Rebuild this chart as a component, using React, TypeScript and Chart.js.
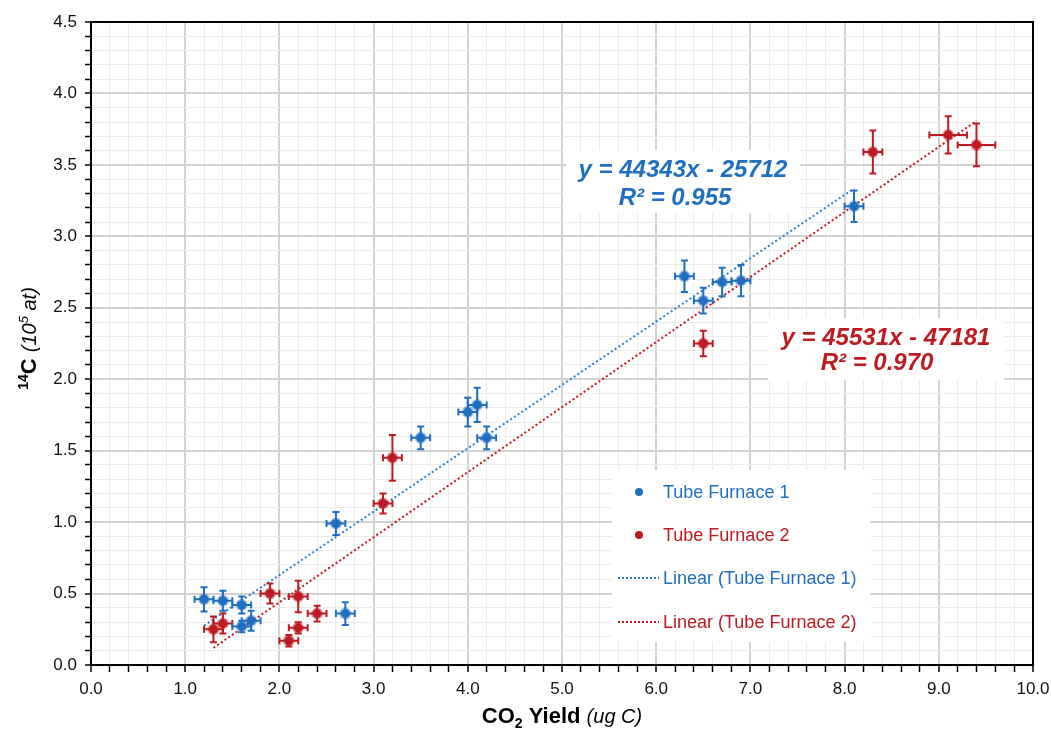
import React, { useEffect, useRef } from 'react';
import { Chart, registerables } from 'chart.js';
Chart.register(...registerables);

// ---- Data ----
const tf1X = [1.2, 1.4, 1.6, 1.6, 1.7, 2.7, 2.6, 3.5, 4.0, 4.1, 4.2, 6.3, 6.5, 6.7, 6.9, 8.1];
const tf1Y = [0.46, 0.45, 0.42, 0.27, 0.31, 0.36, 0.99, 1.59, 1.77, 1.82, 1.59, 2.72, 2.55, 2.68, 2.69, 3.21];
const tf1XErr = [0.1, 0.1, 0.1, 0.1, 0.1, 0.1, 0.1, 0.1, 0.1, 0.1, 0.1, 0.1, 0.1, 0.1, 0.1, 0.1];
const tf1YErr = [0.085, 0.07, 0.06, 0.04, 0.07, 0.08, 0.08, 0.08, 0.1, 0.12, 0.08, 0.11, 0.09, 0.1, 0.11, 0.11];

const tf2X = [1.3, 1.4, 1.9, 2.2, 2.4, 2.2, 2.1, 3.1, 3.2, 6.5, 8.3, 9.1, 9.4];
const tf2Y = [0.25, 0.29, 0.5, 0.48, 0.36, 0.26, 0.17, 1.13, 1.45, 2.25, 3.59, 3.71, 3.64];
const tf2XErr = [0.1, 0.1, 0.1, 0.1, 0.1, 0.1, 0.1, 0.1, 0.1, 0.1, 0.1, 0.2, 0.2];
const tf2YErr = [0.09, 0.07, 0.07, 0.11, 0.055, 0.04, 0.04, 0.07, 0.16, 0.09, 0.15, 0.13, 0.15];

// Trendline equations (in units of 10^5 at)
const trend1Slope = 0.44343;
const trend1Intercept = -0.25712;
const trend1Range = [1.2, 8.1];
const trend2Slope = 0.45531;
const trend2Intercept = -0.47181;
const trend2Range = [1.3, 9.4];

const seriesNames = ['Tube Furnace 1', 'Tube Furnace 2', 'Linear (Tube Furnace 1)', 'Linear (Tube Furnace 2)'];
const eq1Lines = ['y = 44343x - 25712', 'R² = 0.955'];
const eq2Lines = ['y = 45531x - 47181', 'R² = 0.970'];

const BLUE = '#1f6fc0';
const BLUE_T = '#2a7fcf';
const RED = '#bd1a22';
const RED_T = '#c8141e';
const FONT = "'Liberation Sans', Arial, sans-serif";

const errBars = [
  { xErr: tf1XErr, yErr: tf1YErr, color: BLUE },
  { xErr: tf2XErr, yErr: tf2YErr, color: RED },
];

type Seg = { t: string; font: string; dy?: number };
function drawRich(ctx: CanvasRenderingContext2D, segs: Seg[], cx: number, y: number, color: string) {
  let total = 0;
  const widths = segs.map((s) => {
    ctx.font = s.font;
    const w = ctx.measureText(s.t).width;
    total += w;
    return w;
  });
  let x = cx - total / 2;
  ctx.fillStyle = color;
  ctx.textAlign = 'left';
  ctx.textBaseline = 'alphabetic';
  segs.forEach((s, i) => {
    ctx.font = s.font;
    ctx.fillText(s.t, x, y + (s.dy || 0));
    x += widths[i];
  });
}

const decorPlugin = {
  id: 'decor',
  beforeDatasetDraw(chart: any, args: any) {
    const i = args.index;
    if (i > 1) return;
    const eb = errBars[i];
    const ds = chart.data.datasets[i];
    const xs = chart.scales.x;
    const ys = chart.scales.y;
    const ctx = chart.ctx;
    ctx.save();
    ctx.strokeStyle = eb.color;
    ctx.lineWidth = 2;
    const cap = 3.5;
    ds.data.forEach((p: any, j: number) => {
      const px = xs.getPixelForValue(p.x);
      const py = ys.getPixelForValue(p.y);
      const x0 = xs.getPixelForValue(p.x - eb.xErr[j]);
      const x1 = xs.getPixelForValue(p.x + eb.xErr[j]);
      const y0 = ys.getPixelForValue(p.y - eb.yErr[j]);
      const y1 = ys.getPixelForValue(p.y + eb.yErr[j]);
      ctx.beginPath();
      ctx.moveTo(x0, py); ctx.lineTo(x1, py);
      ctx.moveTo(x0, py - cap); ctx.lineTo(x0, py + cap);
      ctx.moveTo(x1, py - cap); ctx.lineTo(x1, py + cap);
      ctx.moveTo(px, y0); ctx.lineTo(px, y1);
      ctx.moveTo(px - cap, y0); ctx.lineTo(px + cap, y0);
      ctx.moveTo(px - cap, y1); ctx.lineTo(px + cap, y1);
      ctx.stroke();
    });
    ctx.restore();
  },
  afterDraw(chart: any) {
    const ctx: CanvasRenderingContext2D = chart.ctx;
    const a = chart.chartArea;
    ctx.save();
    // plot border
    ctx.strokeStyle = '#000';
    ctx.lineWidth = 2;
    ctx.strokeRect(a.left, a.top, a.right - a.left, a.bottom - a.top);

    // equation boxes
    ctx.fillStyle = '#fff';
    ctx.fillRect(566, 150, 234, 63);
    ctx.fillRect(768, 318, 236, 62);
    const eqFont = `italic bold 24px ${FONT}`;
    drawRich(ctx, [{ t: eq1Lines[0], font: eqFont }], 683, 177, BLUE);
    drawRich(ctx, [{ t: eq1Lines[1], font: eqFont }], 675, 205, BLUE);
    drawRich(ctx, [{ t: eq2Lines[0], font: eqFont }], 886, 345, RED);
    drawRich(ctx, [{ t: eq2Lines[1], font: eqFont }], 877, 370, RED);

    // legend
    ctx.fillStyle = '#fff';
    ctx.fillRect(612, 470, 258, 172);
    const rows = [492, 535, 578, 622];
    const cols = [BLUE, RED, BLUE_T, RED_T];
    const txtCols = [BLUE, RED, BLUE, RED];
    ctx.font = `18px ${FONT}`;
    ctx.textBaseline = 'middle';
    ctx.textAlign = 'left';
    rows.forEach((ry, k) => {
      if (k < 2) {
        ctx.beginPath();
        ctx.arc(639, ry, 4, 0, Math.PI * 2);
        ctx.fillStyle = cols[k];
        ctx.fill();
      } else {
        ctx.beginPath();
        ctx.setLineDash([2, 2]);
        ctx.strokeStyle = cols[k];
        ctx.lineWidth = 2;
        ctx.moveTo(618, ry);
        ctx.lineTo(659, ry);
        ctx.stroke();
        ctx.setLineDash([]);
      }
      ctx.fillStyle = txtCols[k];
      ctx.fillText(seriesNames[k], 663, ry + 1);
    });

    // axis titles
    drawRich(
      ctx,
      [
        { t: 'CO', font: `bold 22px ${FONT}` },
        { t: '2', font: `bold 14px ${FONT}`, dy: 5 },
        { t: ' Yield ', font: `bold 22px ${FONT}` },
        { t: '(ug C)', font: `italic 20px ${FONT}` },
      ],
      (a.left + a.right) / 2,
      723,
      '#000'
    );
    ctx.save();
    ctx.translate(36, (a.top + a.bottom) / 2 - 5);
    ctx.rotate(-Math.PI / 2);
    drawRich(
      ctx,
      [
        { t: '14', font: `bold 14px ${FONT}`, dy: -8 },
        { t: 'C ', font: `bold 22px ${FONT}` },
        { t: '(10', font: `italic 20px ${FONT}` },
        { t: '5', font: `italic 13px ${FONT}`, dy: -8 },
        { t: ' at)', font: `italic 20px ${FONT}` },
      ],
      0,
      0,
      '#000'
    );
    ctx.restore();
    ctx.restore();
  },
};

export default function App() {
  const ref = useRef<HTMLCanvasElement>(null);
  useEffect(() => {
    const canvas = ref.current;
    if (!canvas) return;
    const pts1 = tf1X.map((x, i) => ({ x, y: tf1Y[i] }));
    const pts2 = tf2X.map((x, i) => ({ x, y: tf2Y[i] }));
    const line1 = trend1Range.map((x) => ({ x, y: trend1Slope * x + trend1Intercept }));
    const line2 = trend2Range.map((x) => ({ x, y: trend2Slope * x + trend2Intercept }));
    const isMajorX = (v: number) => Math.abs(v - Math.round(v)) < 1e-6;
    const isMajorY = (v: number) => Math.round(v * 10) % 5 === 0;
    const chart = new Chart(canvas, {
      type: 'scatter',
      data: {
        datasets: [
          {
            label: seriesNames[0],
            data: pts1,
            pointRadius: 4.5,
            pointBackgroundColor: BLUE,
            pointBorderColor: 'rgba(31,111,192,0.45)',
            pointBorderWidth: 3,
            order: 0,
          },
          {
            label: seriesNames[1],
            data: pts2,
            pointRadius: 4.5,
            pointBackgroundColor: RED,
            pointBorderColor: 'rgba(189,26,34,0.45)',
            pointBorderWidth: 3,
            order: 0,
          },
          {
            type: 'line',
            label: seriesNames[2],
            data: line1,
            borderColor: BLUE_T,
            borderWidth: 2,
            borderDash: [2, 2.5],
            pointRadius: 0,
            fill: false,
            order: 1,
          },
          {
            type: 'line',
            label: seriesNames[3],
            data: line2,
            borderColor: RED_T,
            borderWidth: 2,
            borderDash: [2, 2.5],
            pointRadius: 0,
            fill: false,
            order: 1,
          },
        ] as any,
      },
      options: {
        animation: false,
        responsive: false,
        devicePixelRatio: 1,
        layout: { padding: { top: 22, right: 18, left: 0, bottom: 0 } },
        plugins: { legend: { display: false }, tooltip: { enabled: false } },
        scales: {
          x: {
            type: 'linear',
            min: 0,
            max: 10,
            afterFit: (s: any) => { s.height = 69; s.paddingLeft = 0; s.paddingRight = 0; },
            ticks: {
              stepSize: 0.2,
              autoSkip: false,
              maxRotation: 0,
              padding: 7,
              color: '#111',
              font: { family: FONT, size: 17 },
              callback: (v: any) => {
                const n = Number(v);
                return isMajorX(n) ? n.toFixed(1) : '';
              },
            },
            grid: {
              color: (c: any) => (isMajorX(c.tick?.value ?? 0) ? '#d2d2d2' : '#ebebeb'),
              lineWidth: (c: any) => (isMajorX(c.tick?.value ?? 0) ? 2 : 1),
              tickColor: '#000',
              tickLength: 7,
              tickWidth: 1.5,
            },
            border: { color: '#000', width: 2 },
          },
          y: {
            type: 'linear',
            min: 0,
            max: 4.5,
            afterFit: (s: any) => { s.width = 91; s.paddingTop = 0; s.paddingBottom = 0; },
            ticks: {
              stepSize: 0.1,
              autoSkip: false,
              padding: 8,
              color: '#111',
              font: { family: FONT, size: 17 },
              callback: (v: any) => {
                const n = Number(v);
                return isMajorY(n) ? n.toFixed(1) : '';
              },
            },
            grid: {
              color: (c: any) => (isMajorY(c.tick?.value ?? 0) ? '#d2d2d2' : '#ebebeb'),
              lineWidth: (c: any) => (isMajorY(c.tick?.value ?? 0) ? 2 : 1),
              tickColor: '#000',
              tickLength: 6,
              tickWidth: 1.5,
            },
            border: { color: '#000', width: 2 },
          },
        },
      } as any,
      plugins: [decorPlugin],
    });
    return () => chart.destroy();
  }, []);
  return (
    <div style={{ position: 'fixed', left: 0, top: 0, width: 1051, height: 734, background: '#fff' }}>
      <canvas ref={ref} width={1051} height={734} style={{ display: 'block', width: 1051, height: 734 }} />
    </div>
  );
}
